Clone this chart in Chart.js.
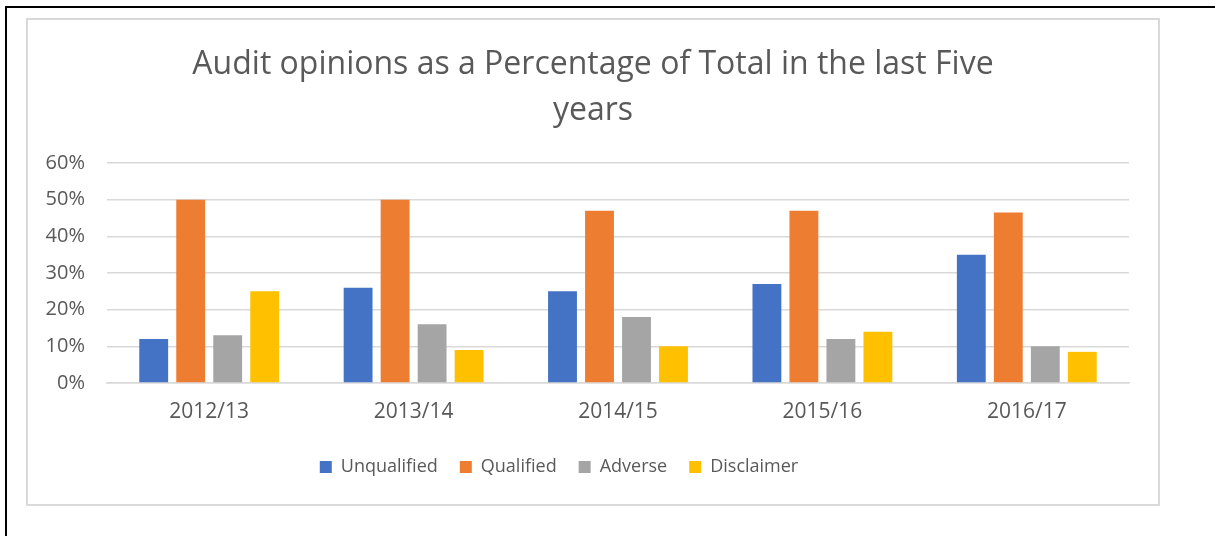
<!DOCTYPE html>
<html lang="en">
<head>
    <meta charset="UTF-8">
    <title>Audit opinions</title>
    <script src="https://cdn.jsdelivr.net/npm/chart.js"></script>
    <style>
        body { margin: 0; background: #fff; width: 1215px; height: 536px; overflow: hidden; position: relative; }
        .frame { position: absolute; left: 5px; top: 6px; width: 1300px; height: 600px;
                 border-left: 2px solid #000; border-top: 2px solid #000; }
        .box { position: absolute; left: 26px; top: 18px; width: 1130px; height: 484px;
               border: 2px solid #d9d9d9; }
        .box canvas { position: absolute; left: 0; top: 0; }
    </style>
</head>
<body>
    <div class="frame"></div>
    <div class="box"><canvas id="auditChart" width="1130" height="484"></canvas></div>

    <script>
        // Values, percent of total
        const years = ['2012/13', '2013/14', '2014/15', '2015/16', '2016/17'];
        const unqualified = [12, 26, 25, 27, 35];
        const qualified = [50, 50, 47, 47, 46.5];
        const adverse = [13, 16, 18, 12, 10];
        const disclaimer = [25, 9, 10, 14, 8.5];

        const textColor = '#595959';
        const gridColor = '#d9d9d9';

        function series(label, data, color) {
            return {
                label: label,
                data: data,
                backgroundColor: color,
                yAxisID: 'y',
                categoryPercentage: 0.724,
                barPercentage: 0.78
            };
        }

        // legend sits a little left of centre in the original
        const legendShift = {
            id: 'legendShift',
            afterLayout(chart) {
                chart.legend.left -= 34;
                chart.legend.right -= 34;
            }
        };

        new Chart(document.getElementById('auditChart'), {
            type: 'bar',
            data: {
                labels: years,
                datasets: [
                    series('Unqualified', unqualified, '#4472C4'),
                    series('Qualified', qualified, '#ED7D31'),
                    series('Adverse', adverse, '#A5A5A5'),
                    series('Disclaimer', disclaimer, '#FFC000')
                ]
            },
            options: {
                responsive: false,
                animation: false,
                layout: { padding: { left: 0, right: 0, top: 0, bottom: 18 } },
                plugins: {
                    tooltip: { enabled: false },
                    title: {
                        display: true,
                        text: ['Audit opinions as a Percentage of Total in the last Five', 'years'],
                        color: textColor,
                        font: { family: 'Open Sans', size: 32, weight: 'normal', lineHeight: 46 / 32 },
                        padding: { top: 22, bottom: 29 }
                    },
                    legend: {
                        position: 'bottom',
                        labels: {
                            color: textColor,
                            font: { family: 'Open Sans', size: 18 },
                            boxWidth: 12,
                            boxHeight: 12,
                            padding: 22
                        }
                    }
                },
                scales: {
                    x: {
                        grid: { display: false, drawTicks: false },
                        border: { color: gridColor, width: 1.5 },
                        ticks: { color: textColor, font: { family: 'Open Sans', size: 21 }, padding: 16 },
                        afterFit: function (scale) { scale.height = 53; }
                    },
                    y: {
                        min: 0,
                        max: 60,
                        grid: { color: gridColor, lineWidth: 1.5, drawTicks: false },
                        border: { display: false },
                        ticks: {
                            stepSize: 10,
                            color: textColor,
                            font: { family: 'Open Sans', size: 20 },
                            padding: 22,
                            callback: function (v) { return v + '%'; }
                        },
                        afterFit: function (scale) { scale.width = 79; }
                    },
                    y2: {
                        position: 'right',
                        grid: { display: false, drawTicks: false },
                        border: { display: false },
                        ticks: { display: false },
                        afterFit: function (scale) { scale.width = 29; }
                    }
                }
            },
            plugins: [legendShift]
        });
    </script>
</body>
</html>
